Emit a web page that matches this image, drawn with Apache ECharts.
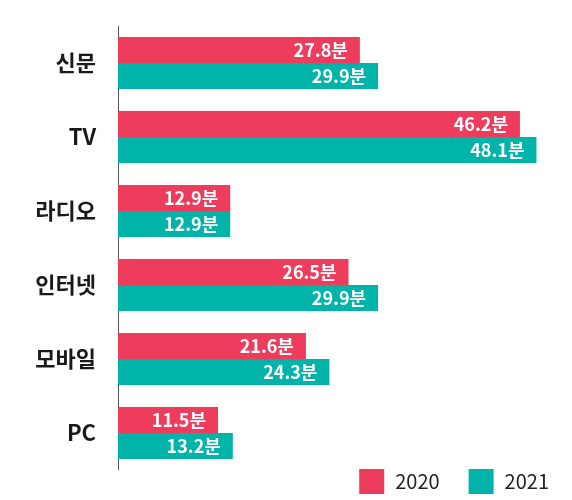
<!DOCTYPE html>
<html>
<head>
<meta charset="utf-8">
<script src="https://cdn.jsdelivr.net/npm/echarts@6/dist/echarts.min.js"></script>
<style>html,body{margin:0;padding:0;background:#fff}#c{width:572px;height:500px}</style>
</head>
<body>
<div id="c"></div>
<script>
const categories = ['신문', 'TV', '라디오', '인터넷', '모바일', 'PC'];
const seriesNames = ['2020', '2021'];
const values2020 = [27.8, 46.2, 12.9, 26.5, 21.6, 11.5];
const values2021 = [29.9, 48.1, 12.9, 29.9, 24.3, 13.2];
const colors = ['#EE3D5C', '#00B4A9'];

const FONT = '"Noto Sans CJK KR", "Noto Sans", sans-serif';
const chart = echarts.init(document.getElementById('c'), null, {renderer: 'canvas'});
const labelCfg = {
  show: true, position: 'insideRight', distance: 12,
  color: '#fff', fontSize: 18, fontWeight: 'bold', fontFamily: FONT,
  formatter: p => p.value + '분'
};
chart.setOption({
  animation: false,
  grid: {left: 118, right: 19, top: 26, bottom: 30},
  legend: {
    right: 18, top: 464, itemWidth: 25, itemHeight: 25, itemGap: 29,
    icon: 'rect',
    textStyle: {fontSize: 20, color: '#222', fontFamily: FONT, padding: [0, 0, 0, 6]},
    data: seriesNames
  },
  xAxis: {type: 'value', min: 0, max: 50, show: false},
  yAxis: {
    type: 'category', data: categories, inverse: true,
    axisLine: {show: true, lineStyle: {color: '#555', width: 1}},
    axisTick: {show: false},
    axisLabel: {margin: 22, fontSize: 22, fontWeight: 'bold', color: '#1a1a1a', fontFamily: FONT}
  },
  series: [
    {name: seriesNames[0], type: 'bar', data: values2020, barWidth: 26, barGap: '0%', itemStyle: {color: colors[0]}, label: labelCfg},
    {name: seriesNames[1], type: 'bar', data: values2021, barWidth: 26, barGap: '0%', itemStyle: {color: colors[1]}, label: labelCfg}
  ]
});
</script>
</body>
</html>
